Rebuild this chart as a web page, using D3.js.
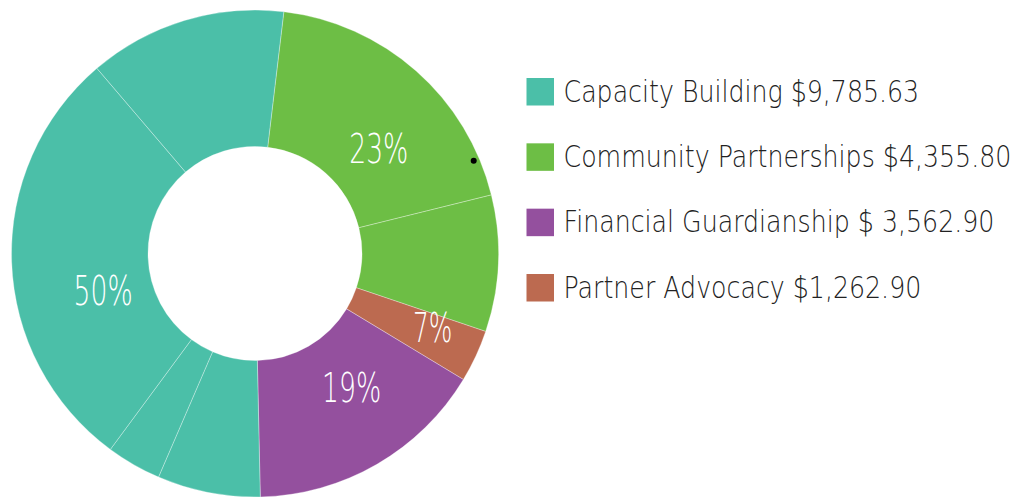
<!DOCTYPE html>
<html>
<head>
<meta charset="utf-8">
<script src="https://cdn.jsdelivr.net/npm/d3@7"></script>
<style>
  body { margin: 0; background: #fff; }
  svg { display: block; }
  .legendText { font-family: "DejaVu Sans", sans-serif; font-weight: 200; fill: #222; }
  .pctText { font-family: "DejaVu Sans", sans-serif; font-weight: 200; fill: #fff; }
</style>
</head>
<body>
<div id="chart"></div>
<script>
// ...............................
// data

var categories = ["Capacity Building", "Community Partnerships", "Financial Guardianship", "Partner Advocacy"];
var legendAmounts = ["$9,785.63", "$4,355.80", "$ 3,562.90", "$1,262.90"];
var shareLabels = ["50%", "23%", "19%", "7%"];
var colours = ["#4bbfa8", "#6dbe45", "#94509e", "#bc6a50"];

// pie slices, clockwise from just right of 12 o'clock
var sliceCategory = [1, 1, 3, 2, 0, 0, 0, 0];
var sliceValues = [69.3, 32.6, 12.5, 57.6, 24.6, 13.1, 103.1, 47.3];

// ...............................
// layout

var width = 1026, height = 498;
var cx = 255, cy = 253.5;
var outerR = 243.5, innerR = 107;
var startDeg = 6.8;

var svg = d3.select("#chart").append("svg")
  .attr("width", width)
  .attr("height", height);

var slices = sliceValues.map(function (v, i) { return { value: v, cat: sliceCategory[i] }; });

var pie = d3.pie()
  .sort(null)
  .value(function (d) { return d.value; })
  .startAngle(startDeg * Math.PI / 180)
  .endAngle(startDeg * Math.PI / 180 + 2 * Math.PI);

var arc = d3.arc().innerRadius(innerR).outerRadius(outerR);
var labelArc = d3.arc().innerRadius(175).outerRadius(175);

var arcs = pie(slices);

var donut = svg.append("g")
  .attr("transform", "translate(" + cx + "," + cy + ")");

donut.selectAll("path.slice")
  .data(arcs)
  .enter()
  .append("path")
    .attr("class", "slice")
    .attr("d", arc)
    .attr("fill", function (d) { return colours[d.data.cat]; })
    .attr("stroke", "#fff")
    .attr("stroke-width", 0.7)
    .attr("stroke-opacity", 0.45);

// percentage labels sit on the biggest slice of each category
var labelNudge = [[23, 31], [8, 26], [9, -18], [19, 0]];

categories.forEach(function (c, ci) {
  var own = arcs.filter(function (a) { return a.data.cat === ci; });
  var biggest = own.reduce(function (m, a) { return (a.value > m.value) ? a : m; });
  var pos = labelArc.centroid(biggest);
  var t = donut.append("text")
    .attr("class", "pctText")
    .attr("dy", "0.36em")
    .attr("text-anchor", "middle")
    .style("font-size", "41px")
    .text(shareLabels[ci]);
  var k = shareLabels[ci].length * 19.7 / t.node().getComputedTextLength();
  t.attr("transform", "translate(" + (pos[0] + labelNudge[ci][0]) + "," +
         (pos[1] + labelNudge[ci][1]) + ") scale(" + k + ",1)");
});

// stray mark in the source picture
var dotAngle = 67 * Math.PI / 180;
donut.append("circle")
  .attr("cx", 237.6 * Math.sin(dotAngle))
  .attr("cy", -237.6 * Math.cos(dotAngle))
  .attr("r", 3)
  .attr("fill", "#000");

// ...............................
// legend

var rowY = d3.scalePoint()
  .domain(d3.range(categories.length))
  .range([78, 274]);

var legend = svg.append("g").attr("class", "legend");

var rows = legend.selectAll("g.row")
  .data(categories)
  .enter()
  .append("g")
    .attr("class", "row")
    .attr("transform", function (d, i) { return "translate(526.5," + rowY(i) + ")"; });

rows.append("rect")
  .attr("width", 27.5)
  .attr("height", 27.5)
  .attr("fill", function (d, i) { return colours[i]; });

var legendTexts = rows.append("text")
  .attr("class", "legendText")
  .style("font-size", "31px")
  .text(function (d, i) { return d + " " + legendAmounts[i]; });

// squeeze the text sideways (condensed face in the source); widest row ~448px
var lens = [];
legendTexts.each(function () { lens.push(this.getComputedTextLength()); });
var squeeze = 448 / d3.max(lens);
legendTexts.attr("transform", "translate(37,23.5) scale(" + squeeze + ",1)");
</script>
</body>
</html>
